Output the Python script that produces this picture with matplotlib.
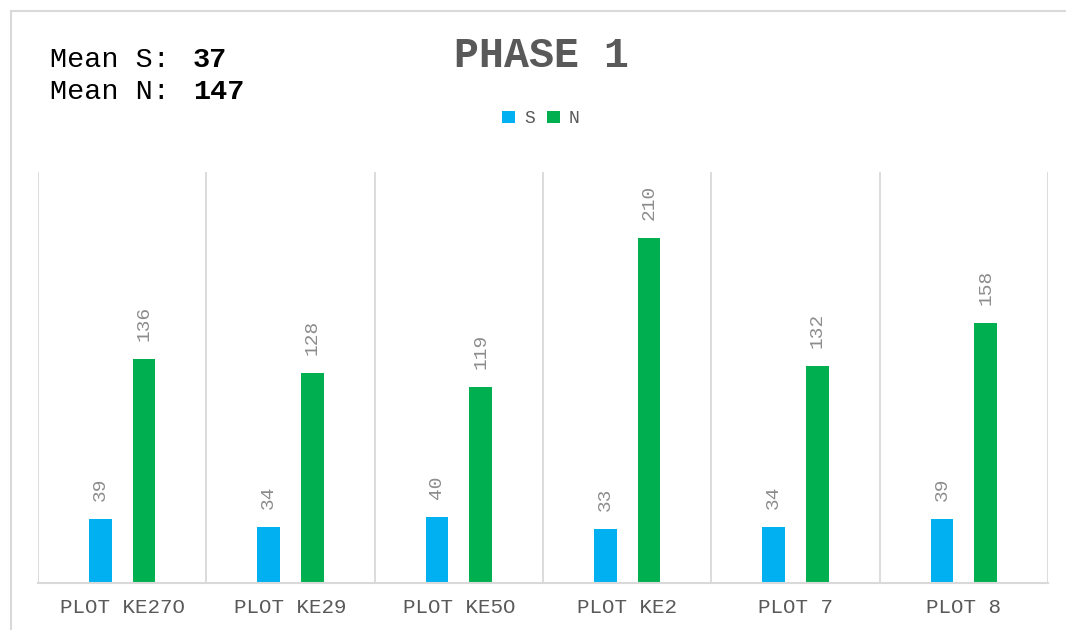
import matplotlib.pyplot as plt
import numpy as np
from matplotlib.patches import Rectangle

# Plot names and counts per plot
plots = ["PLOT KE27O", "PLOT KE29", "PLOT KE5O", "PLOT KE2", "PLOT 7", "PLOT 8"]
s_counts = [39, 34, 40, 33, 34, 39]
n_counts = [136, 128, 119, 210, 132, 158]
mean_s = 37
mean_n = 147

blue = "#00B0F0"
green = "#00B050"
grey = "#595959"
label_grey = "#8C8C8C"
grid_grey = "#D9D9D9"
mono = "Liberation Mono"

fig = plt.figure(figsize=(10.66, 6.30), dpi=100)
W, H = 1066, 630

# outer chart frame
fig.patches.append(Rectangle((11 / W, -0.1), 1.2, (H - 11) / H + 0.1,
                             transform=fig.transFigure, fill=False,
                             edgecolor=grid_grey, linewidth=1.5))

ax = fig.add_axes([38 / W, (H - 583) / H, (1048 - 38) / W, (583 - 172) / H])
x = np.arange(len(plots))
width = 0.134
offset = 0.13
ax.bar(x - offset, s_counts, width, color=blue, label="S")
ax.bar(x + offset, n_counts, width, color=green, label="N")

for xi, v in zip(x - offset, s_counts):
    ax.annotate(str(v), (xi, v), xytext=(0, 13), textcoords="offset points",
                rotation=90, ha="center", va="bottom", color=label_grey,
                fontsize=14, family=mono)
for xi, v in zip(x + offset, n_counts):
    ax.annotate(str(v), (xi, v), xytext=(0, 13), textcoords="offset points",
                rotation=90, ha="center", va="bottom", color=label_grey,
                fontsize=14, family=mono)

ax.set_xlim(-0.5, len(plots) - 0.5)
ax.set_ylim(0, 250)
ax.set_yticks([])
ax.set_xticks(x)
ax.set_xticklabels(plots, family=mono, fontsize=15, color=grey)
ax.tick_params(axis="x", length=0, pad=11)
for b in np.arange(-0.5, len(plots), 1.0):
    ax.axvline(b, color=grid_grey, linewidth=1.3, zorder=0)
for side in ["top", "left", "right"]:
    ax.spines[side].set_visible(False)
ax.spines["bottom"].set_color(grid_grey)
ax.spines["bottom"].set_linewidth(1.5)

fig.text(541 / W, 1 - 56 / H, "PHASE 1", ha="center", va="center",
         family=mono, fontweight="bold", fontsize=30, color=grey)

fig.legend(loc="center", bbox_to_anchor=(541 / W, 1 - 119 / H), ncol=2,
           frameon=False, prop={"family": mono, "size": 13},
           handlelength=0.7, handleheight=0.7, handletextpad=0.5,
           columnspacing=0.7, labelcolor=grey)

fig.text(50 / W, 1 - 60 / H, "Mean S: ", ha="left", va="center",
         family=mono, fontsize=20.5, color="black")
fig.text(193 / W, 1 - 60 / H, str(mean_s), ha="left", va="center",
         family=mono, fontsize=20.5, fontweight="bold", color="black")
fig.text(50 / W, 1 - 92 / H, "Mean N: ", ha="left", va="center",
         family=mono, fontsize=20.5, color="black")
fig.text(193 / W, 1 - 92 / H, str(mean_n), ha="left", va="center",
         family=mono, fontsize=20.5, fontweight="bold", color="black")

fig.savefig("out.png", dpi=100, facecolor="white")
